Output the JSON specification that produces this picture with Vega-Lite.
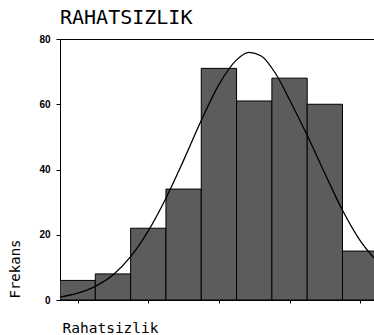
{
  "$schema": "https://vega.github.io/schema/vega-lite/v6.json",
  "autosize": "none",
  "width": 315,
  "height": 261,
  "padding": {"left": 60, "top": 39, "right": 0, "bottom": 35},
  "background": "white",
  "title": {
    "text": "RAHATSIZLIK",
    "anchor": "start",
    "frame": "group",
    "font": "DejaVu Sans Mono",
    "fontSize": 20,
    "fontWeight": "normal",
    "color": "black",
    "baseline": "alphabetic",
    "offset": -10
  },
  "config": {
    "view": {"stroke": "black", "strokeWidth": 1},
    "axis": {"domainColor": "black", "tickColor": "black", "grid": false}
  },
  "datasets": {
    "bars": [
      {"bin": 1, "lo": 0.5, "hi": 1.5, "count": 6},
      {"bin": 2, "lo": 1.5, "hi": 2.5, "count": 8},
      {"bin": 3, "lo": 2.5, "hi": 3.5, "count": 22},
      {"bin": 4, "lo": 3.5, "hi": 4.5, "count": 34},
      {"bin": 5, "lo": 4.5, "hi": 5.5, "count": 71},
      {"bin": 6, "lo": 5.5, "hi": 6.5, "count": 61},
      {"bin": 7, "lo": 6.5, "hi": 7.5, "count": 68},
      {"bin": 8, "lo": 7.5, "hi": 8.5, "count": 60},
      {"bin": 9, "lo": 8.5, "hi": 9.5, "count": 15}
    ],
    "curve": [
      {"u": 0.5, "f": 0.9},
      {"u": 1.0, "f": 2.1},
      {"u": 1.5, "f": 4.2},
      {"u": 2.0, "f": 7.7},
      {"u": 2.5, "f": 13.3},
      {"u": 3.0, "f": 21.2},
      {"u": 3.5, "f": 31.2},
      {"u": 4.0, "f": 42.8},
      {"u": 4.5, "f": 55.0},
      {"u": 5.0, "f": 66.0},
      {"u": 5.5, "f": 73.6},
      {"u": 5.85, "f": 75.9},
      {"u": 6.2, "f": 74.8},
      {"u": 6.6, "f": 69.5},
      {"u": 7.0, "f": 61.4},
      {"u": 7.5, "f": 50.5},
      {"u": 8.0, "f": 38.8},
      {"u": 8.5, "f": 27.5},
      {"u": 9.0, "f": 18.2},
      {"u": 9.42, "f": 12.5}
    ]
  },
  "layer": [
    {
      "data": {"name": "bars"},
      "mark": {"type": "bar", "fill": "#5c5c5c", "stroke": "black", "strokeWidth": 1, "clip": true},
      "encoding": {
        "x": {
          "field": "lo", "type": "quantitative",
          "scale": {"domain": [0.5, 9.42], "nice": false, "zero": false},
          "axis": {
            "values": [1, 2, 3, 4, 5, 6, 7, 8, 9],
            "labels": false,
            "tickSize": 3,
            "title": "Rahatsizlik",
            "titleFont": "DejaVu Sans Mono",
            "titleFontSize": 14.5,
            "titleFontWeight": "normal",
            "titleColor": "black",
            "titleAlign": "left",
            "titleBaseline": "alphabetic",
            "titleX": 2,
            "titleY": 32
          }
        },
        "x2": {"field": "hi"},
        "y": {
          "field": "count", "type": "quantitative",
          "scale": {"domain": [0, 80], "nice": false},
          "axis": {
            "values": [0, 20, 40, 60, 80],
            "tickSize": 4,
            "labelPadding": 6,
            "labelFont": "Liberation Sans",
            "labelFontSize": 10,
            "labelFontWeight": "bold",
            "labelColor": "black",
            "title": "Frekans",
            "titleFont": "DejaVu Sans Mono",
            "titleFontSize": 14,
            "titleFontWeight": "normal",
            "titleColor": "black",
            "titleAngle": -90,
            "titleAlign": "left",
            "titleBaseline": "middle",
            "titleX": -45,
            "titleY": 259
          }
        },
        "y2": {"datum": 0}
      }
    },
    {
      "data": {"name": "curve"},
      "mark": {"type": "line", "color": "black", "strokeWidth": 1.3, "interpolate": "monotone", "clip": true},
      "encoding": {
        "x": {"field": "u", "type": "quantitative"},
        "y": {"field": "f", "type": "quantitative"}
      }
    }
  ]
}
